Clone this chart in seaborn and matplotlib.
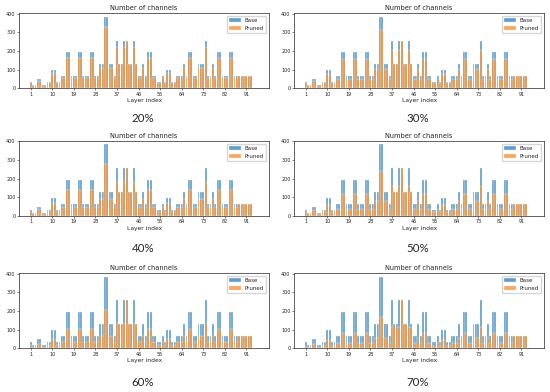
import matplotlib
matplotlib.use("Agg")
import matplotlib.pyplot as plt
import seaborn as sns

sns.set_style("ticks")
plt.rcParams["font.family"] = ["DejaVu Sans"]

# channel counts per layer
layers = list(range(1, 94))
base = [32, 16, 16, 48, 48, 16, 16, 32, 32, 96,
        96, 32, 32, 64, 64, 192, 192, 64, 64, 64,
        192, 192, 64, 64, 64, 192, 192, 64, 64, 128,
        128, 384, 384, 128, 128, 64, 256, 128, 128, 256,
        256, 128, 128, 256, 128, 64, 64, 128, 64, 192,
        192, 64, 64, 32, 32, 64, 32, 96, 96, 32,
        32, 64, 64, 64, 128, 64, 192, 192, 64, 64,
        128, 128, 128, 256, 64, 64, 128, 64, 192, 192,
        64, 64, 64, 192, 192, 64, 64, 64, 64, 64,
        64, 64, 64]

pruned_20 = [28, 14, 14, 41, 41, 14, 14, 28, 28, 83,
             83, 28, 28, 55, 55, 165, 165, 55, 55, 55,
             165, 165, 55, 55, 55, 165, 165, 55, 55, 110,
             110, 330, 330, 110, 110, 55, 220, 128, 128, 220,
             256, 128, 128, 220, 128, 55, 55, 110, 55, 165,
             165, 55, 55, 28, 28, 55, 28, 83, 83, 28,
             28, 55, 55, 55, 110, 55, 165, 165, 55, 55,
             110, 110, 110, 220, 55, 55, 110, 55, 165, 165,
             55, 55, 55, 165, 165, 55, 55, 64, 64, 64,
             64, 64, 64]

pruned_30 = [26, 13, 13, 39, 39, 13, 13, 26, 26, 78,
             78, 26, 26, 52, 52, 155, 155, 52, 52, 52,
             155, 155, 52, 52, 52, 155, 155, 52, 52, 104,
             104, 311, 311, 104, 104, 52, 207, 128, 128, 207,
             256, 128, 128, 207, 128, 52, 52, 104, 52, 155,
             155, 52, 52, 26, 26, 52, 26, 78, 78, 26,
             26, 52, 52, 52, 104, 52, 155, 155, 52, 52,
             104, 104, 104, 207, 52, 52, 104, 52, 155, 155,
             52, 52, 52, 155, 155, 52, 52, 64, 64, 64,
             64, 64, 64]

pruned_40 = [23, 12, 12, 35, 35, 12, 12, 23, 23, 69,
             69, 23, 23, 46, 46, 138, 138, 46, 46, 46,
             138, 138, 46, 46, 46, 138, 138, 46, 46, 92,
             92, 276, 276, 92, 92, 46, 184, 128, 128, 184,
             256, 128, 128, 184, 128, 46, 46, 92, 46, 138,
             138, 46, 46, 23, 23, 46, 23, 69, 69, 23,
             23, 46, 46, 46, 92, 46, 138, 138, 46, 46,
             92, 92, 92, 184, 46, 46, 92, 46, 138, 138,
             46, 46, 46, 138, 138, 46, 46, 64, 64, 64,
             64, 64, 64]

pruned_50 = [20, 10, 10, 30, 30, 10, 10, 20, 20, 60,
             60, 20, 20, 40, 40, 120, 120, 40, 40, 40,
             120, 120, 40, 40, 40, 120, 120, 40, 40, 80,
             80, 240, 240, 80, 80, 40, 160, 128, 128, 160,
             256, 128, 128, 160, 128, 40, 40, 80, 40, 120,
             120, 40, 40, 20, 20, 40, 20, 60, 60, 20,
             20, 40, 40, 40, 80, 40, 120, 120, 40, 40,
             80, 80, 80, 160, 40, 40, 80, 40, 120, 120,
             40, 40, 40, 120, 120, 40, 40, 64, 64, 64,
             64, 64, 64]

pruned_60 = [17, 8, 8, 25, 25, 8, 8, 17, 17, 51,
             51, 17, 17, 34, 34, 102, 102, 34, 34, 34,
             102, 102, 34, 34, 34, 102, 102, 34, 34, 68,
             68, 204, 204, 68, 68, 34, 136, 128, 128, 136,
             256, 128, 128, 136, 128, 34, 34, 68, 34, 102,
             102, 34, 34, 17, 17, 34, 17, 51, 51, 17,
             17, 34, 34, 34, 68, 34, 102, 102, 34, 34,
             68, 68, 68, 136, 34, 34, 68, 34, 102, 102,
             34, 34, 34, 102, 102, 34, 34, 64, 64, 64,
             64, 64, 64]

pruned_70 = [14, 7, 7, 21, 21, 7, 7, 14, 14, 42,
             42, 14, 14, 28, 28, 84, 84, 28, 28, 28,
             84, 84, 28, 28, 28, 84, 84, 28, 28, 56,
             56, 169, 169, 56, 56, 28, 113, 128, 115, 113,
             256, 128, 128, 113, 115, 28, 28, 56, 28, 84,
             84, 28, 28, 14, 14, 28, 14, 42, 42, 14,
             14, 28, 28, 28, 56, 28, 84, 84, 28, 28,
             56, 56, 56, 113, 28, 28, 56, 28, 84, 84,
             28, 28, 28, 84, 84, 28, 28, 64, 64, 64,
             64, 64, 64]

pct_labels = ["20%", "30%", "40%", "50%", "60%", "70%"]
pruned_all = [pruned_20, pruned_30, pruned_40, pruned_50, pruned_60, pruned_70]
xtick_vals = list(range(1, 94, 9))

fig = plt.figure(figsize=(5.5, 3.92), dpi=100)

lefts = [0.0345, 0.5345]
bottoms = [0.7747, 0.449, 0.1115]
label_y = [1 - 119 / 392, 1 - 248 / 392, 1 - 382 / 392]
label_x = [143 / 550, 418 / 550]

for i, (pct, pruned) in enumerate(zip(pct_labels, pruned_all)):
    row, col = divmod(i, 2)
    ax = fig.add_axes([lefts[col], bottoms[row], 0.455, 0.192])
    sns.barplot(x=layers, y=base, native_scale=True, color="#1f77b4",
                saturation=1, alpha=0.7, edgecolor="white", linewidth=0.3,
                errorbar=None, label="Base", ax=ax)
    sns.barplot(x=layers, y=pruned, native_scale=True, color="#ff7f0e",
                saturation=1, alpha=0.7, edgecolor="white", linewidth=0.3,
                errorbar=None, label="Pruned", ax=ax)
    ax.set_xlim(-3.9, 100.5)
    ax.set_ylim(0, 403)
    ax.set_xticks(xtick_vals)
    ax.set_yticks([0, 100, 200, 300, 400])
    ax.tick_params(labelsize=3.5, length=1.5, width=0.4, pad=1)
    for s in ax.spines.values():
        s.set_linewidth(0.5)
    ax.set_title("Number of channels", fontsize=4.8, pad=2)
    ax.set_xlabel("Layer index", fontsize=4.3, labelpad=1)
    ax.set_ylabel("")
    ax.legend(loc="upper right", fontsize=4, frameon=True)
    fig.text(label_x[col], label_y[row], pct, ha="center", va="center",
             fontsize=8.3, family=["Lato", "DejaVu Sans"])

fig.savefig("out.png", dpi=100)
